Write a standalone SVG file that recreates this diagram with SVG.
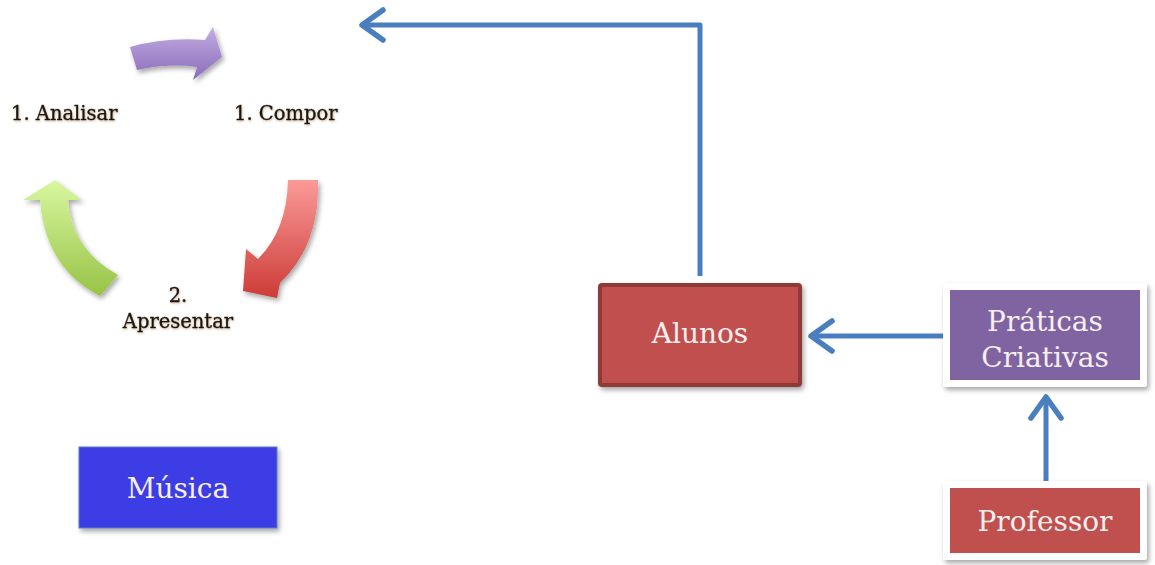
<svg xmlns="http://www.w3.org/2000/svg" width="1155" height="565" viewBox="0 0 1155 565">
<defs>
<style>
.lbl{font-family:"DejaVu Serif","Liberation Serif",serif;font-size:19.5px;fill:#141414;stroke:#141414;stroke-width:0.35}
.box{font-family:"DejaVu Serif","Liberation Serif",serif;font-size:28px;fill:#f7efef;text-anchor:middle}
.con{fill:none;stroke:#4a7fbf;stroke-width:5;stroke-linejoin:round;marker-end:url(#chev)}
</style>
<marker id="chev" markerWidth="8" markerHeight="8" refX="5.2" refY="4" orient="auto" markerUnits="strokeWidth" viewBox="0 0 8 8">
<path d="M1,1 L5.2,4 L1,7" fill="none" stroke="#4a7fbf" stroke-width="1.1" stroke-linecap="round" stroke-linejoin="round"/>
</marker>
<filter id="sh" x="-20%" y="-20%" width="150%" height="150%">
<feDropShadow dx="2" dy="3" stdDeviation="2.5" flood-color="#000" flood-opacity="0.35"/>
</filter>
<filter id="tsh" x="-10%" y="-30%" width="120%" height="160%">
<feDropShadow dx="0.5" dy="1" stdDeviation="0.8" flood-color="#8a5a20" flood-opacity="0.5"/>
</filter>
<linearGradient id="gp" x1="0" y1="0" x2="0" y2="1">
<stop offset="0" stop-color="#c2aee2"/><stop offset="1" stop-color="#8a6bbb"/>
</linearGradient>
<linearGradient id="gr" x1="0" y1="0" x2="0" y2="1">
<stop offset="0" stop-color="#fb9a98"/><stop offset="1" stop-color="#cc3c38"/>
</linearGradient>
<linearGradient id="gg" x1="0" y1="0" x2="0" y2="1">
<stop offset="0" stop-color="#d8f7a0"/><stop offset="1" stop-color="#98c346"/>
</linearGradient>
</defs>

<g id="cycle">
<path d="M130,47 Q165,37 205,40 L213,27 L222,57 L193,80 L197,67 Q170,63 137,70 Z" fill="url(#gp)" filter="url(#sh)"/>
<path d="M288,180 L318,180 Q320,245 280,283 L277,298 L243,291 L246,249 L258,259 Q287,230 288,180 Z" fill="url(#gr)" filter="url(#sh)"/>
<path d="M118,275 L100,296 Q45,268 40,200 L23,200 L55,180 L82,200 L68,200 Q72,250 118,275 Z" fill="url(#gg)" filter="url(#sh)"/>
</g>
<g id="lbl-analisar"><text class="lbl" x="11" y="120" filter="url(#tsh)">1. Analisar</text></g>
<g id="lbl-compor"><text class="lbl" x="234" y="120" filter="url(#tsh)">1. Compor</text></g>
<g id="lbl-apresentar"><text class="lbl" x="178" y="302" text-anchor="middle" filter="url(#tsh)">2.</text><text class="lbl" x="178" y="328" text-anchor="middle" filter="url(#tsh)">Apresentar</text></g>

<g id="connectors">
<path class="con" d="M700,276 L700,25 L362,25"/>
<path class="con" d="M943,336 L811,336"/>
<path class="con" d="M1046,494 L1046,397"/>
</g>

<g id="alunos">
<rect x="600" y="285" width="200" height="100" rx="2" fill="#c0504d" stroke="#8e3a38" stroke-width="4" filter="url(#sh)"/>
<text class="box" x="700" y="343">Alunos</text>
</g>
<g id="praticas">
<rect x="943" y="283" width="204" height="104" rx="3" fill="#ffffff" filter="url(#sh)"/>
<rect x="950" y="290" width="190" height="90" fill="#8064a2"/>
<text class="box" x="1045" y="331">Práticas</text>
<text class="box" x="1045" y="367">Criativas</text>
</g>
<g id="professor">
<rect x="943" y="481" width="204" height="79" rx="3" fill="#ffffff" filter="url(#sh)"/>
<rect x="950" y="488" width="190" height="65" fill="#c0504d"/>
<text class="box" x="1045" y="531">Professor</text>
</g>
<g id="musica">
<rect x="79" y="447" width="198" height="81" fill="#3c3ce6" stroke="#5a7fc0" stroke-width="1" filter="url(#sh)"/>
<text class="box" x="178" y="498">Música</text>
</g>
</svg>
